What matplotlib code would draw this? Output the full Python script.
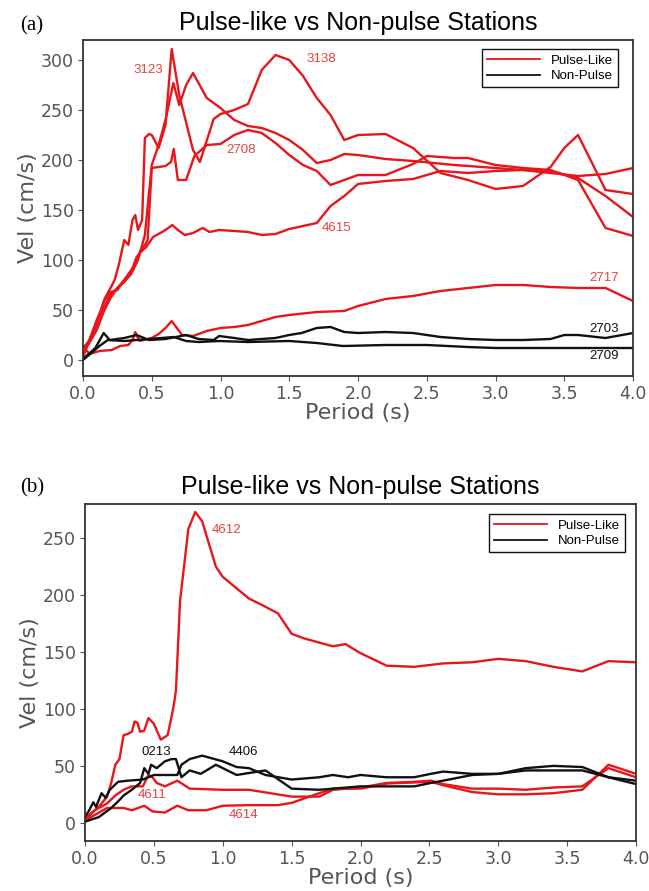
import matplotlib
matplotlib.use("Agg")
import matplotlib.pyplot as plt

RED = "#e8161b"
RED_TXT = "#e8403f"
BLK = "#111111"

# ---- panel (a) ----
a_3123_x = [0.0, 0.03, 0.06, 0.1, 0.13, 0.16, 0.2, 0.23, 0.26, 0.3, 0.33, 0.36, 0.38, 0.40, 0.43, 0.45, 0.48,
            0.5, 0.55, 0.6, 0.645, 0.7, 0.8, 0.85, 0.95, 1.0, 1.1, 1.2, 1.3, 1.4, 1.5, 1.6, 1.7, 1.8, 1.9, 2.0,
            2.2, 2.4, 2.6, 2.8, 3.0, 3.2, 3.4, 3.5, 3.6, 3.8, 4.0]
a_3123_y = [5, 15, 25, 40, 50, 62, 72, 80, 95, 120, 115, 140, 145, 130, 140, 222, 226,
            225, 212, 235, 311, 265, 210, 198, 241, 246, 250, 256, 290, 305, 300, 284, 262, 245, 220, 225,
            226, 212, 187, 180, 171, 174, 193, 212, 225, 170, 166]

a_3138_x = [0.0, 0.05, 0.1, 0.15, 0.2, 0.25, 0.3, 0.35, 0.4, 0.45, 0.5, 0.55, 0.6, 0.657, 0.7, 0.75, 0.8,
            0.9, 1.0, 1.1, 1.2, 1.3, 1.4, 1.5, 1.6, 1.7, 1.8, 1.9, 2.0, 2.2, 2.4, 2.7, 2.8, 3.0, 3.2, 3.4,
            3.6, 3.8, 4.0]
a_3138_y = [3, 20, 38, 52, 65, 72, 78, 86, 100, 125, 195, 215, 240, 277, 255, 275, 287,
            262, 252, 240, 234, 232, 227, 220, 210, 197, 200, 206, 205, 201, 199, 195, 194, 192, 190, 189,
            182, 164, 143]

a_2708_x = [0.0, 0.05, 0.1, 0.15, 0.2, 0.25, 0.3, 0.35, 0.38, 0.42, 0.45, 0.47, 0.5, 0.6, 0.64, 0.66, 0.69,
            0.75, 0.81, 0.9, 1.0, 1.1, 1.2, 1.3, 1.4, 1.5, 1.6, 1.7, 1.8, 1.9, 2.0, 2.2, 2.4, 2.5, 2.7, 2.8,
            3.0, 3.2, 3.4, 3.6, 3.8, 4.0]
a_2708_y = [12, 20, 35, 58, 68, 70, 80, 90, 95, 110, 115, 120, 192, 194, 198, 211, 180,
            180, 204, 215, 216, 225, 230, 227, 217, 205, 195, 189, 175, 180, 185, 185, 196, 204, 202, 202,
            195, 192, 190, 180, 132, 124]

a_4615_x = [0.0, 0.05, 0.1, 0.15, 0.2, 0.25, 0.3, 0.35, 0.39, 0.42, 0.46, 0.51, 0.6, 0.65, 0.69, 0.74, 0.8,
            0.87, 0.92, 0.99, 1.1, 1.2, 1.3, 1.4, 1.5, 1.6, 1.7, 1.8, 1.9, 2.0, 2.2, 2.4, 2.6, 2.8, 3.0, 3.2,
            3.4, 3.6, 3.8, 4.0]
a_4615_y = [8, 18, 30, 48, 62, 72, 80, 88, 103, 108, 113, 123, 130, 135, 130, 125, 127,
            132, 128, 130, 129, 128, 125, 126, 131, 134, 137, 154, 164, 176, 179, 181, 189, 187, 189, 190,
            187, 184, 186, 192]

a_2717_x = [0.0, 0.05, 0.12, 0.21, 0.27, 0.33, 0.36, 0.38, 0.41, 0.5, 0.55, 0.6, 0.645, 0.72, 0.8, 0.9, 1.0,
            1.1, 1.2, 1.4, 1.5, 1.7, 1.9, 2.0, 2.2, 2.4, 2.6, 2.8, 3.0, 3.2, 3.4, 3.6, 3.8, 4.0]
a_2717_y = [13, 6, 9, 10, 14, 15, 20, 28, 19, 22, 26, 32, 39, 25, 24, 29, 32,
            33, 35, 43, 45, 48, 49, 54, 61, 64, 69, 72, 75, 75, 73, 72, 72, 59]

a_2703_x = [0.0, 0.09, 0.15, 0.195, 0.3, 0.39, 0.48, 0.6, 0.75, 0.84, 0.95, 0.99, 1.1, 1.2, 1.4, 1.5, 1.59,
            1.7, 1.8, 1.9, 2.0, 2.2, 2.4, 2.6, 2.8, 3.0, 3.2, 3.4, 3.5, 3.6, 3.8, 4.0]
a_2703_y = [1, 12, 27, 20, 22, 25, 20, 21, 25, 21, 20, 24, 22, 20, 22, 25, 27,
            32, 33, 28, 27, 28, 27, 23, 21, 20, 20, 21, 25, 25, 22, 27]

a_2709_x = [0.0, 0.12, 0.18, 0.3, 0.39, 0.48, 0.66, 0.75, 0.84, 0.99, 1.2, 1.5, 1.7, 1.89, 2.2, 2.5, 2.8,
            3.0, 4.0]
a_2709_y = [0, 14, 20, 19, 20, 21, 23, 19, 18, 19, 18, 19, 17, 14, 15, 15, 13,
            12, 12]

a_red = [(a_3123_x, a_3123_y), (a_3138_x, a_3138_y), (a_2708_x, a_2708_y),
         (a_4615_x, a_4615_y), (a_2717_x, a_2717_y)]
a_black = [(a_2703_x, a_2703_y), (a_2709_x, a_2709_y)]
a_labels = [("3123", 0.475, 290, RED_TXT), ("3138", 1.73, 301, RED_TXT), ("2708", 1.15, 210, RED_TXT),
            ("4615", 1.84, 132, RED_TXT), ("2717", 3.79, 82, RED_TXT),
            ("2703", 3.79, 31, BLK), ("2709", 3.79, 4, BLK)]

# ---- panel (b) ----
b_4612_x = [0.0, 0.04, 0.10, 0.16, 0.19, 0.22, 0.25, 0.28, 0.31, 0.34, 0.36, 0.38, 0.40, 0.43, 0.46, 0.50,
            0.55, 0.60, 0.64, 0.66, 0.69, 0.75, 0.80, 0.85, 0.95, 1.0, 1.19, 1.29, 1.40, 1.50, 1.59, 1.80,
            1.89, 2.0, 2.19, 2.39, 2.6, 2.81, 3.0, 3.2, 3.4, 3.61, 3.8, 4.0]
b_4612_y = [4, 8, 14, 23, 35, 51, 56, 77, 78, 80, 89, 88, 80, 81, 92, 87,
            73, 77, 100, 116, 195, 258, 273, 265, 225, 216, 197, 191, 184, 166, 162, 155,
            157, 149, 138, 137, 140, 141, 144, 142, 137, 133, 142, 141]

b_4611_x = [0.0, 0.07, 0.16, 0.22, 0.28, 0.34, 0.42, 0.46, 0.49, 0.52, 0.58, 0.67, 0.76, 1.0, 1.19, 1.5,
            1.7, 1.8, 2.0, 2.19, 2.39, 2.51, 2.6, 2.81, 3.0, 3.2, 3.4, 3.61, 3.8, 4.0]
b_4611_y = [2, 11, 17, 24, 29, 32, 32, 42, 40, 35, 32, 37, 30, 29, 29, 23,
            23, 29, 31, 35, 36, 37, 34, 30, 30, 29, 31, 32, 48, 40]

b_4614_x = [0.0, 0.16, 0.28, 0.34, 0.43, 0.49, 0.58, 0.67, 0.75, 0.88, 1.0, 1.19, 1.40, 1.5, 1.7, 1.8,
            2.0, 2.19, 2.51, 2.6, 2.81, 3.0, 3.2, 3.4, 3.61, 3.8, 4.0]
b_4614_y = [2, 13, 13, 11, 15, 10, 9, 15, 11, 11, 15, 15.5, 15.5, 17.5, 26, 30,
            30, 34.5, 36, 33, 27, 25, 25, 26, 29, 51, 43]

b_4406_x = [0.0, 0.03, 0.06, 0.08, 0.12, 0.15, 0.18, 0.24, 0.31, 0.42, 0.50, 0.58, 0.67, 0.70, 0.76, 0.85,
            1.0, 1.10, 1.19, 1.31, 1.50, 1.70, 1.8, 1.91, 2.0, 2.19, 2.39, 2.51, 2.6, 2.81, 3.0, 3.2, 3.4,
            3.61, 3.8, 4.0]
b_4406_y = [5, 11, 18, 14, 26, 22, 29, 36, 37, 38, 42, 42, 42, 51, 56, 59,
            54, 49, 48, 42, 38, 40, 42, 40, 42, 40, 40, 43, 45, 43, 43, 46, 46,
            46, 40, 34]

b_0213_x = [0.0, 0.10, 0.19, 0.25, 0.28, 0.34, 0.40, 0.43, 0.46, 0.48, 0.52, 0.58, 0.63, 0.66, 0.70, 0.76,
            0.84, 0.95, 1.10, 1.31, 1.50, 1.70, 2.0, 2.39, 2.51, 2.6, 2.81, 3.0, 3.2, 3.4, 3.61, 3.8, 4.0]
b_0213_y = [1, 5, 13, 20, 24, 29, 35, 48, 43, 51, 48, 54, 56, 56, 40, 46,
            43, 51, 42, 46, 30, 29, 32, 32, 35, 37, 42, 43, 48, 50, 49, 40, 37]

b_red = [(b_4612_x, b_4612_y), (b_4611_x, b_4611_y), (b_4614_x, b_4614_y)]
b_black = [(b_4406_x, b_4406_y), (b_0213_x, b_0213_y)]
b_labels = [("4612", 1.03, 257, RED_TXT), ("0213", 0.52, 62, BLK), ("4406", 1.15, 62, BLK),
            ("4611", 0.49, 24, RED_TXT), ("4614", 1.15, 7, RED_TXT)]

xticks = [0.0, 0.5, 1.0, 1.5, 2.0, 2.5, 3.0, 3.5, 4.0]
a_yticks = [0, 50, 100, 150, 200, 250, 300]
b_yticks = [0, 50, 100, 150, 200, 250]

SANS = "Liberation Sans"
fig = plt.figure(figsize=(6.49, 8.91), dpi=100)


def draw(ax, reds, blacks, labels, yticks, ylim, legend_anchor):
    for x, y in reds:
        ax.plot(x, y, color=RED, lw=1.7)
    for x, y in blacks:
        ax.plot(x, y, color=BLK, lw=1.7)
    for txt, x, y, c in labels:
        ax.text(x, y, txt, color=c, fontsize=9.5, family=SANS, ha="center", va="center")
    ax.set_xlim(0, 4)
    ax.set_ylim(*ylim)
    ax.set_xticks(xticks)
    ax.set_yticks(yticks)
    ax.tick_params(labelsize=12.5, colors="#555555", length=3.5, width=0.8, direction="out", pad=3)
    for s in ax.spines.values():
        s.set_color("#333333")
        s.set_linewidth(1.3)
    ax.set_ylabel("Vel (cm/s)", fontsize=16, color="#555555", labelpad=2)
    ax.set_xlabel("Period (s)", fontsize=16, color="#555555", labelpad=0)
    ax.set_title("Pulse-like vs Non-pulse Stations", fontsize=18, family=SANS, pad=7)
    handles = [plt.Line2D([], [], color=RED, lw=1.3), plt.Line2D([], [], color=BLK, lw=1.3)]
    leg = ax.legend(handles, ["Pulse-Like", "Non-Pulse"], loc="upper right", bbox_to_anchor=legend_anchor,
                    borderaxespad=0, fancybox=False, handlelength=4, framealpha=1,
                    prop={"family": SANS, "size": 9.5}, labelspacing=0.25, borderpad=0.4)
    leg.get_frame().set_edgecolor("#111111")
    leg.get_frame().set_linewidth(1.0)


ax1 = fig.add_axes([0.1279, 0.578, 0.8475, 0.3771])
draw(ax1, a_red, a_black, a_labels, a_yticks, (-16, 320), (0.973, 0.973))
fig.text(32 / 649, 1 - 26 / 891, "(a)", family="Liberation Serif", fontsize=15, ha="center", va="center")

ax2 = fig.add_axes([0.131, 0.0561, 0.849, 0.3782])
draw(ax2, b_red, b_black, b_labels, b_yticks, (-16, 280), (0.98, 0.970))
fig.text(32 / 649, 1 - 488 / 891, "(b)", family="Liberation Serif", fontsize=15, ha="center", va="center")

fig.savefig("out.png", dpi=100)
